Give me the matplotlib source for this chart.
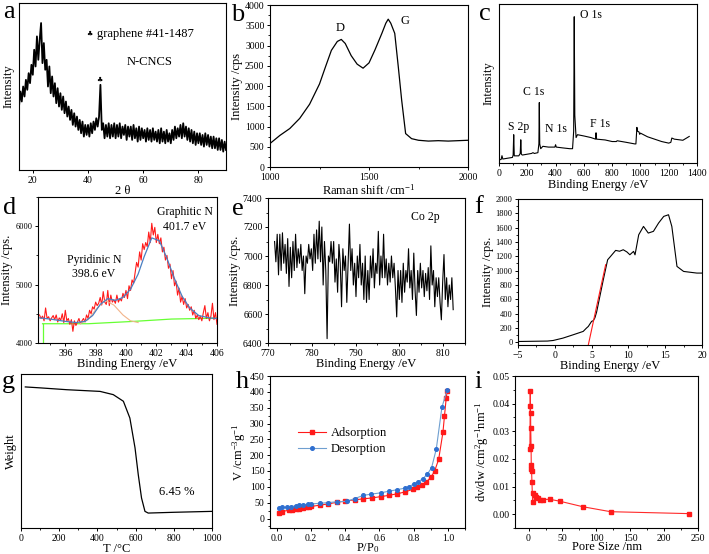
import numpy as np
import matplotlib
matplotlib.use("Agg")
import matplotlib.pyplot as plt
from matplotlib.ticker import AutoMinorLocator, MultipleLocator, FormatStrFormatter

plt.rcParams['font.family'] = ['Liberation Serif', 'DejaVu Sans']
plt.rcParams['mathtext.fontset'] = 'custom'
plt.rcParams['mathtext.rm'] = 'Liberation Serif'
plt.rcParams['mathtext.it'] = 'Liberation Serif:italic'

# ---------------- data ----------------
# (a) XRD, 2theta from 15 to 90 step 0.5 (relative intensity)
xrd_start, xrd_step = 15.0, 0.5
xrd_int = [38, 47, 41, 50, 44, 54, 48, 58, 52, 63, 57,
           72, 62, 80, 66, 78, 88, 64, 76, 60, 66,
           50, 62, 46, 56, 44, 52, 40, 49, 38, 46,
           36, 44, 34, 41, 32, 38, 30, 36, 27, 34,
           26, 32, 24, 30, 22, 29, 20, 27, 21, 27,
           20, 28, 22, 29, 24, 31, 26, 32, 51, 24,
           28, 19, 27, 20, 28, 19, 27, 20, 28, 19,
           27, 20, 28, 19, 26, 21, 27, 18, 26, 20,
           26, 18, 27, 19, 25, 17, 26, 18, 25, 19,
           24, 17, 25, 18, 24, 17, 25, 18, 23, 17,
           24, 16, 25, 17, 23, 16, 24, 17, 22, 16,
           24, 18, 26, 19, 25, 20, 27, 19, 28, 20,
           26, 18, 25, 17, 24, 16, 23, 15, 22, 16,
           22, 15, 21, 14, 22, 15, 21, 14, 20, 13,
           20, 13, 19, 12, 19, 12, 18, 11, 17, 12]

# (b) Raman
raman_x = [1000, 1050, 1100, 1150, 1200, 1250, 1280, 1310, 1340, 1360, 1380, 1410, 1440, 1470,
           1500, 1530, 1565, 1585, 1597, 1610, 1630, 1648, 1665, 1685, 1715, 1750, 1800, 1850,
           1900, 1950, 2000]
raman_y = [580, 780, 950, 1200, 1550, 2050, 2470, 2880, 3100, 3150, 3050, 2750, 2540, 2440,
           2570, 2890, 3300, 3550, 3650, 3550, 3300, 2470, 1650, 825, 700, 660, 640, 650,
           640, 650, 660]

# (c) XPS survey (relative intensity)
surv_x = [0, 15, 21, 27, 60, 95, 100, 104, 108, 140, 150, 154, 158, 165, 230, 240, 250, 275, 282,
          285, 288, 295, 310, 350, 395, 400, 405, 450, 500, 520, 528, 532, 536, 545, 555, 600,
          650, 683, 686, 690, 750, 800, 830, 835, 900, 960, 968, 975, 980, 990, 995, 1000, 1050,
          1100, 1150, 1200, 1215, 1222, 1240, 1300, 1345]
surv_y = [2.0, 2.2, 4.6, 2.5, 3.0, 3.5, 5, 17.8, 4.5, 4.5, 6, 14.6, 5.5, 5.0, 6.0, 6.5, 6.0, 6.5, 12,
          38, 12, 9, 10.5, 10, 10, 11.5, 10, 9.5, 9, 9.0, 20, 92, 30, 16, 17.8, 17,
          16, 15, 19, 15, 14.5, 13.5, 13.5, 14, 13, 12, 12, 22.4, 20, 19.5, 18, 18.8, 16.5,
          15, 13.5, 12.5, 13, 15.7, 15, 14.3, 16.7]
surv_labels = ["S 2p", "C 1s", "N 1s", "O 1s", "F 1s"]

# (d) N 1s high resolution
n1s_start, n1s_step = 394.3, 0.1
n1s_raw = [4480, 4420, 4460, 4380, 4600, 4420, 4450, 4380, 4430, 4470,
           4400, 4480, 4360, 4430, 4390, 4500, 4350, 4560, 4380, 4420,
           4320, 4400, 4200, 4380, 4300, 4360, 4420, 4330, 4380, 4420,
           4360, 4480, 4420, 4560, 4500, 4620, 4580, 4700, 4640, 4680,
           4780, 4650, 4880, 4700, 4660, 4900, 4640, 4820, 4700, 4740,
           4680, 4820, 4700, 4760, 4720, 4850, 4780, 4900, 4760, 4980,
           4900, 5080, 5020, 5200, 5380, 5300, 5560, 5420, 5700, 5600,
           5720, 5650, 5900, 5720, 6050, 5850, 5980, 5720, 5860, 5700,
           5800, 5560, 5640, 5420, 5500, 5280, 5350, 5100, 5240, 4980,
           5060, 4820, 4940, 4700, 4800, 4660, 4760, 4600, 4660, 4560,
           4620, 4480, 4560, 4420, 4480, 4400, 4460, 4380, 4520, 4640,
           4420, 4520, 4380, 4460, 4680, 4400, 4520, 4320]
env_x = [394.3, 395, 396, 396.7, 397.3, 397.8, 398.3, 398.8, 399.3, 399.8, 400.3, 400.8, 401.2,
         401.7, 402.2, 402.7, 403.2, 403.7, 404.2, 404.8, 405.5, 406]
env_y = [4430, 4410, 4370, 4350, 4370, 4470, 4660, 4760, 4730, 4780, 4920, 5180, 5480,
         5800, 5750, 5450, 5100, 4800, 4600, 4470, 4430, 4420]
pyr_x = [397.0, 397.5, 398.0, 398.6, 399.2, 399.8, 400.3, 400.8]
pyr_y = [4335, 4400, 4570, 4730, 4650, 4480, 4380, 4350]
bg_x = [394.5, 397.5, 400.5, 403, 406]
bg_y = [4330, 4330, 4370, 4410, 4425]

# (e) Co 2p
co_start, co_step = 771.5, 0.3
co_raw = [7100, 6960, 7150, 6870, 7150, 6900, 7160, 6950, 7080, 6880,
          7120, 6790, 7060, 6850, 7100, 6900, 7150, 6920, 7050, 6950,
          7080, 6900, 7000, 6740, 7000, 6950, 7080, 6980, 7050, 6900,
          7150, 6950, 7180, 6980, 7240, 6960, 7200, 6800, 7100, 6900,
          6430, 7000, 6960, 7100, 6950, 7100, 6820, 6980, 6750, 7080,
          6950, 6650, 7050, 6900, 7000, 6680, 6950, 7220, 6900, 7050,
          6800, 6950, 6720, 7000, 6850, 7080, 6800, 6950, 6700, 7000,
          6680, 6900, 6700, 7000, 6850, 7050, 6780, 6950, 6880, 7170,
          6800, 7000, 6850, 7150, 6850, 6980, 6800, 6950, 6820, 7000,
          6850, 6950, 6780, 6580, 6900, 6700, 6900, 6680, 6950, 6750,
          6900, 6820, 7050, 6780, 6900, 6700, 7020, 6760, 6590, 6900,
          6750, 6950, 6780, 6900, 6720, 6880, 6760, 6920, 6700, 7070,
          6800, 6900, 6650, 6850, 6720, 6850, 6680, 6560, 6820, 7010,
          6700, 6850, 6650, 6800, 6700, 6850, 6630]

# (f) valence band
vb_x = [-5, -3, -1, -0.23, 1.1, 2.5, 3.86, 4.3, 4.55, 5.0, 5.23, 5.45, 5.68, 6.59, 7.18, 7.5,
        8.27, 8.8, 9.3, 9.8, 10.2, 10.7, 10.9, 11.4, 12.05, 12.7, 13.4, 14.1, 14.8, 15.45,
        15.9, 16.6, 17.5, 18.5, 19.3, 20]
vb_y = [9, 12, 15, 23, 56, 103, 150, 196, 219, 290, 300, 340, 420, 872, 1151, 1189,
        1282, 1270, 1291, 1260, 1221, 1268, 1220, 1500, 1617, 1524, 1548, 1664, 1757, 1780,
        1617, 1058, 988, 975, 965, 965]
tan_x = [4.41, 6.91]
tan_y = [-107, 1082]

# (g) TGA (relative weight)
tga_T = [22.6, 100, 240, 414, 483, 536, 570, 597, 614, 631, 649, 666, 800, 1000]
tga_w = [91.6, 91.0, 89.8, 88.7, 86.6, 82.3, 71.4, 52, 34.6, 19.5, 10.8, 9.7, 10.2, 10.8]

# (h) N2 isotherm
ads_p = [0.01, 0.03, 0.07, 0.09, 0.11, 0.13, 0.15, 0.17, 0.19, 0.2, 0.25, 0.3, 0.35, 0.4, 0.456,
         0.505, 0.557, 0.606, 0.654, 0.703, 0.751, 0.798, 0.82, 0.849, 0.874, 0.9, 0.922, 0.946,
         0.971, 0.98, 0.99, 0.995]
ads_v = [18, 22, 26, 28, 30, 31, 33, 35, 37, 38, 42, 46, 51, 55, 59,
         62, 65, 69, 73, 78, 84, 93, 98, 105, 115, 130, 149, 187,
         272, 324, 379, 402]
des_p = [0.995, 0.965, 0.932, 0.905, 0.88, 0.854, 0.825, 0.8, 0.775, 0.75, 0.703, 0.654, 0.606,
         0.553, 0.505, 0.456, 0.408, 0.35, 0.3, 0.25, 0.2, 0.18, 0.15, 0.13, 0.11, 0.08, 0.06,
         0.03, 0.01]
des_v = [405, 351, 219, 161, 140, 126, 115, 109, 101, 96, 91, 86, 81,
         77, 73, 63, 54, 53, 50, 48, 46, 45, 43, 42, 40, 37, 36,
         35, 33]

# (i) pore size distribution
pore_d = [2, 2.5, 2.7, 3, 3.2, 3.7, 4, 4.2, 4.5, 5, 6, 7, 9, 11, 14, 17, 22, 31, 46, 80, 121, 237]
pore_v = [0.0236, 0.0445, 0.0391, 0.0365, 0.0311, 0.0248, 0.0179, 0.0163, 0.0155, 0.0116, 0.0044,
          0.0077, 0.0071, 0.0061, 0.0059, 0.0053, 0.0053, 0.0054, 0.0047, 0.0027, 0.0009, 0.0002]

# ---------------- figure ----------------
W, H = 709, 554
fig = plt.figure(figsize=(W / 100, H / 100), dpi=100)

TICK = 7
LAB = 9


def ax_at(x0, y0, x1, y1):
    ax = fig.add_axes([x0 / W, 1 - y1 / H, (x1 - x0) / W, (y1 - y0) / H])
    ax.tick_params(direction='out', labelsize=TICK, length=2.5, width=0.7, pad=1.5,
                   top=False, right=False)
    ax.tick_params(which='minor', direction='out', length=1.5, width=0.6, top=False, right=False)
    for s in ax.spines.values():
        s.set_linewidth(0.8)
    return ax


def ftext(x, y, s, **kw):
    kw.setdefault('ha', 'center')
    kw.setdefault('va', 'center')
    fig.text(x / W, 1 - y / H, s, **kw)


def plabel(x, y, s):
    fig.text(x / W, 1 - y / H, s, fontsize=19, ha='left', va='baseline')


# (a)
ax = ax_at(19, 3, 226, 170)
xa = xrd_start + xrd_step * np.arange(len(xrd_int))
ax.plot(xa, xrd_int, color='black', lw=1.3)
ax.set_xlim(15, 90)
ax.set_ylim(0, 100)
ax.set_yticks([])
ax.xaxis.set_major_locator(MultipleLocator(20))
ax.set_xlabel("2 θ", fontsize=LAB, labelpad=0)
ax.set_ylabel("Intensity", fontsize=LAB, labelpad=3)
ftext(89, 34, "♣", fontsize=5, family=['DejaVu Sans'])
ftext(97, 34, "graphene #41-1487", fontsize=9, ha='left')
ftext(150, 62, "N-CNCS", fontsize=9)
ftext(99, 80, "♣", fontsize=5, family=['DejaVu Sans'])
plabel(3, 18, "a")

# (b)
ax = ax_at(270, 5, 468, 167)
ax.plot(raman_x, raman_y, color='black', lw=0.9)
ax.set_xlim(1000, 2000)
ax.set_ylim(0, 4000)
ax.xaxis.set_major_locator(MultipleLocator(500))
ax.yaxis.set_major_locator(MultipleLocator(500))
ax.xaxis.set_minor_locator(AutoMinorLocator(2))
ax.yaxis.set_minor_locator(AutoMinorLocator(2))
ax.set_xlabel(r"Raman shift /cm$^{-1}$", fontsize=LAB, labelpad=1)
ax.set_ylabel("Intensity /cps", fontsize=LAB, labelpad=1)
ftext(340, 28, "D", fontsize=9)
ftext(405, 21, "G", fontsize=9)
plabel(231, 21, "b")

# (c)
ax = ax_at(499, 4, 697, 163)
ax.plot(surv_x, surv_y, color='black', lw=0.8)
ax.set_xlim(0, 1400)
ax.set_ylim(0, 100)
ax.set_yticks([])
ax.xaxis.set_major_locator(MultipleLocator(200))
ax.xaxis.set_minor_locator(AutoMinorLocator(2))
ax.set_xlabel("Binding Energy /eV", fontsize=LAB, labelpad=1)
ax.set_ylabel("Intensity", fontsize=LAB, labelpad=3)
for s, (px, py) in zip(surv_labels, [(519, 127), (534, 92), (556, 129), (591, 15), (600, 124)]):
    ftext(px, py, s, fontsize=8.5)
plabel(479, 20, "c")

# (d)
ax = ax_at(38, 197, 217, 343)
xd = n1s_start + n1s_step * np.arange(len(n1s_raw))
ax.plot(bg_x, bg_y, color='#66ff33', lw=0.9)
ax.plot([bg_x[0], bg_x[0]], [4000, bg_y[0]], color='#66ff33', lw=0.9)
ax.plot(xd, n1s_raw, color='#ff1a1a', lw=0.8)
ax.plot(pyr_x, pyr_y, color='#f2b48a', lw=0.8)
ax.plot(env_x, env_y, color='#4a7fc1', lw=0.9)
ax.set_xlim(394.2, 406)
ax.set_ylim(4000, 6500)
ax.xaxis.set_major_locator(MultipleLocator(2))
ax.yaxis.set_major_locator(MultipleLocator(1000))
ax.xaxis.set_minor_locator(AutoMinorLocator(2))
ax.yaxis.set_minor_locator(AutoMinorLocator(2))
ax.tick_params(axis='y', labelsize=6)
ax.set_xlabel("Binding Energy /eV", fontsize=LAB, labelpad=0)
ax.set_ylabel("Intensity /cps.", fontsize=LAB, labelpad=2)
ftext(185, 212, "Graphitic N", fontsize=8.5)
ftext(185, 227, "401.7 eV", fontsize=8.5)
ftext(94, 260, "Pyridinic N", fontsize=8.5)
ftext(94, 274, "398.6 eV", fontsize=8.5)
plabel(3, 214, "d")

# (e)
ax = ax_at(268, 198, 465, 343)
xe = co_start + co_step * np.arange(len(co_raw))
ax.plot(xe, co_raw, color='black', lw=0.8)
ax.set_xlim(770, 815)
ax.set_ylim(6400, 7400)
ax.xaxis.set_major_locator(MultipleLocator(10))
ax.yaxis.set_major_locator(MultipleLocator(200))
ax.xaxis.set_minor_locator(AutoMinorLocator(2))
ax.yaxis.set_minor_locator(AutoMinorLocator(2))
ax.set_xlabel("Binding Energy /eV", fontsize=LAB, labelpad=0)
ax.set_ylabel("Intensity /cps.", fontsize=LAB, labelpad=1)
ftext(425, 217, "Co 2p", fontsize=8.5)
plabel(232, 215, "e")

# (f)
ax = ax_at(518, 199, 702, 345)
ax.plot(vb_x, vb_y, color='black', lw=0.8)
ax.plot(tan_x, tan_y, color='#ff1a1a', lw=0.8)
ax.set_xlim(-5, 20)
ax.set_ylim(-40, 2000)
ax.xaxis.set_major_locator(MultipleLocator(5))
ax.yaxis.set_major_locator(MultipleLocator(200))
ax.xaxis.set_minor_locator(AutoMinorLocator(2))
ax.yaxis.set_minor_locator(AutoMinorLocator(2))
ax.tick_params(axis='y', labelsize=6)
ax.set_xlabel("Binding Energy /eV", fontsize=LAB, labelpad=0)
ax.set_ylabel("Intensity /cps.", fontsize=LAB, labelpad=1)
plabel(474, 213, "f")

# (g)
ax = ax_at(21, 374, 212, 528)
ax.plot(tga_T, tga_w, color='black', lw=0.9)
ax.set_xlim(0, 1000)
ax.set_ylim(0, 100)
ax.set_yticks([])
ax.xaxis.set_major_locator(MultipleLocator(200))
ax.xaxis.set_minor_locator(AutoMinorLocator(2))
ax.set_xlabel("T /°C", fontsize=LAB, labelpad=0)
ax.set_ylabel("Weight", fontsize=LAB, labelpad=3)
ftext(177, 492, "6.45 %", fontsize=9)
plabel(2, 388, "g")

# (h)
ax = ax_at(270, 376, 465, 528)
ax.plot(ads_p, ads_v, color='#ff1a1a', lw=0.8, marker='s', ms=2.6, label='Adsorption')
ax.plot(des_p, des_v, color='#6f9fd0', lw=0.8, marker='o', ms=2.6, mfc='#2f6fd0', mec='#2f6fd0',
        label='Desorption')
ax.set_xlim(-0.04, 1.1)
ax.set_ylim(-30, 450)
ax.xaxis.set_major_locator(MultipleLocator(0.2))
ax.yaxis.set_major_locator(MultipleLocator(50))
ax.xaxis.set_minor_locator(AutoMinorLocator(2))
ax.yaxis.set_minor_locator(AutoMinorLocator(2))
ax.xaxis.set_major_formatter(FormatStrFormatter('%.1f'))
ax.set_xlabel(r"P/P$_0$", fontsize=LAB, labelpad=-1)
ax.set_ylabel(r"V /cm$^{-3}$g$^{-1}$", fontsize=LAB, labelpad=1)
ax.legend(loc='upper left', bbox_to_anchor=(0.1, 0.72), frameon=False, fontsize=9,
          handlelength=2.2, handletextpad=0.4, borderpad=0.2, labelspacing=0.3)
plabel(236, 388, "h")

# (i)
ax = ax_at(515, 376, 698, 528)
ax.plot(pore_d, pore_v, color='#ff2a2a', lw=0.8, marker='s', ms=2.6, mfc='#ff1a1a', mec='#ff1a1a')
ax.set_xlim(-20, 250)
ax.set_ylim(-0.005, 0.05)
ax.xaxis.set_major_locator(MultipleLocator(50))
ax.yaxis.set_major_locator(MultipleLocator(0.01))
ax.xaxis.set_minor_locator(AutoMinorLocator(2))
ax.yaxis.set_minor_locator(AutoMinorLocator(2))
ax.yaxis.set_major_formatter(FormatStrFormatter('%.2f'))
ax.set_xlabel("Pore Size /nm", fontsize=LAB, labelpad=-1)
ax.set_ylabel(r"dv/dw /cm$^{2}$g$^{-1}$nm$^{-1}$", fontsize=LAB, labelpad=1)
plabel(474, 388, "i")

fig.savefig("out.png", dpi=100)
